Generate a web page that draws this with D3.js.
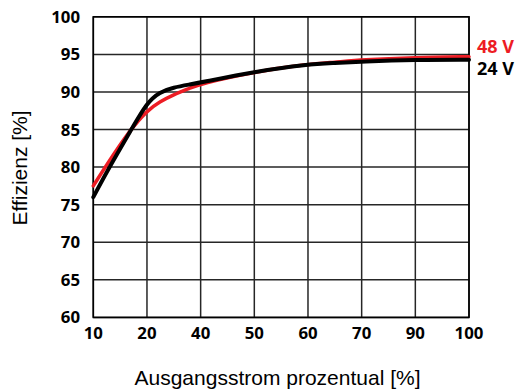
<!DOCTYPE html>
<html>
<head>
<meta charset="utf-8">
<script src="https://cdn.jsdelivr.net/npm/d3@7"></script>
<style>
  body { margin: 0; background: #fff; }
  svg { display: block; }
</style>
</head>
<body>
<script>
// efficiency curves
const xTicks = [10, 20, 40, 50, 60, 70, 90, 100];
const yTicks = [60, 65, 70, 75, 80, 85, 90, 95, 100];

const load48 = [10, 12.2, 16.9, 20, 24.8, 29.8, 36, 40, 50, 60, 65, 70, 90, 100];
const eff48  = [77.5, 80, 85, 87.5, 88.7, 89.6, 90.5, 91.1, 92.7, 93.7, 93.95, 94.3, 94.6, 94.7];

const load24 = [10, 13, 17.1, 20, 24.8, 29.8, 36, 40, 50, 60, 65, 70, 90, 100];
const eff24  = [76.0, 80, 85, 88.6, 90.0, 90.6, 91.0, 91.25, 92.7, 93.7, 93.85, 94.05, 94.3, 94.3];

const seriesNames = ["48 V", "24 V"];
const seriesColors = ["#ed1c24", "#000000"];

const W = 521, H = 391;
const mLeft = 93.3, mRight = 469, mTop = 16.8, mBottom = 317.4;
const tickFont = "'Open Sans', sans-serif";
const titleFont = "'Liberation Sans', Arial, sans-serif";

const svg = d3.select("body").append("svg")
    .attr("width", W)
    .attr("height", H);

// x ticks are not evenly spaced in value, but they are on the paper
const x = d3.scaleLinear()
    .domain(xTicks)
    .range(xTicks.map((d, i) => mLeft + i * (mRight - mLeft) / (xTicks.length - 1)));

const y = d3.scaleLinear()
    .domain([60, 100])
    .range([mBottom, mTop]);

// grid
svg.append("g")
    .selectAll("line")
    .data(xTicks)
    .join("line")
    .attr("x1", d => x(d)).attr("x2", d => x(d))
    .attr("y1", mTop).attr("y2", mBottom)
    .attr("stroke", "#262626")
    .attr("stroke-width", 1.5);

svg.append("g")
    .selectAll("line")
    .data(yTicks)
    .join("line")
    .attr("x1", mLeft).attr("x2", mRight)
    .attr("y1", d => y(d)).attr("y2", d => y(d))
    .attr("stroke", "#262626")
    .attr("stroke-width", 1.5);

svg.append("rect")
    .attr("x", mLeft).attr("y", mTop)
    .attr("width", mRight - mLeft).attr("height", mBottom - mTop)
    .attr("fill", "none")
    .attr("stroke", "#000")
    .attr("stroke-width", 1.6);

// tick labels
svg.append("g")
    .selectAll("text")
    .data(yTicks)
    .join("text")
    .attr("x", 80)
    .attr("y", d => y(d) + 6)
    .attr("text-anchor", "end")
    .attr("font-family", tickFont)
    .attr("font-weight", "bold")
    .attr("font-size", 16.8)
    .text(d => d);

svg.append("g")
    .selectAll("text")
    .data(xTicks)
    .join("text")
    .attr("x", d => x(d))
    .attr("y", 338.5)
    .attr("text-anchor", "middle")
    .attr("font-family", tickFont)
    .attr("font-weight", "bold")
    .attr("font-size", 16.8)
    .text(d => d);

// curves - basis keeps the knee round like the original
const line = d3.line()
    .x(d => x(d[0]))
    .y(d => y(d[1]))
    .curve(d3.curveBasis);

const series = [
    d3.zip(load48, eff48),
    d3.zip(load24, eff24)
];

svg.append("g")
    .selectAll("path")
    .data(series)
    .join("path")
    .attr("d", line)
    .attr("fill", "none")
    .attr("stroke", (d, i) => seriesColors[i])
    .attr("stroke-width", (d, i) => i === 0 ? 3.5 : 4)
    .attr("stroke-linecap", "round");

// series labels at the right end
svg.append("g")
    .selectAll("text")
    .data(seriesNames)
    .join("text")
    .attr("x", 477)
    .attr("y", (d, i) => i === 0 ? 53 : 75)
    .attr("fill", (d, i) => seriesColors[i])
    .attr("font-family", tickFont)
    .attr("font-weight", "bold")
    .attr("font-size", 18)
    .text(d => d);

// axis titles
svg.append("text")
    .attr("transform", "translate(26.5," + 168 + ") rotate(-90)")
    .attr("text-anchor", "middle")
    .attr("font-family", titleFont)
    .attr("font-size", 21)
    .text("Effizienz [%]");

svg.append("text")
    .attr("x", 277.5)
    .attr("y", 385)
    .attr("text-anchor", "middle")
    .attr("font-family", titleFont)
    .attr("font-size", 21)
    .text("Ausgangsstrom prozentual [%]");
</script>
</body>
</html>
